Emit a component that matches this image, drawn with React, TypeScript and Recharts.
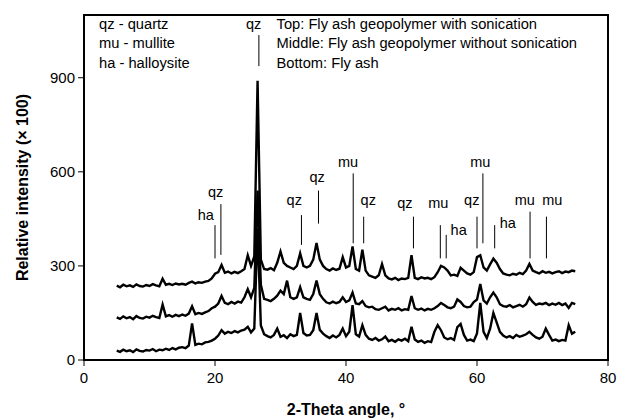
import { LineChart, Line, XAxis, YAxis, ReferenceLine, ReferenceDot, ReferenceArea } from "recharts";

const FONT = "'Liberation Sans', Arial, Helvetica, sans-serif";

// 2-theta sampling (degrees)
const theta = [
  5, 5.5, 6, 6.5, 7, 7.5, 8, 8.5, 9, 9.5,
  10, 10.5, 11, 11.5, 12, 12.5, 13, 13.5, 14, 14.5,
  15, 15.5, 16, 16.5, 17, 17.5, 18, 18.5, 19, 19.5,
  20, 20.5, 21, 21.5, 22, 22.5, 23, 23.5, 24, 24.5,
  25, 25.5, 26, 26.5, 27, 27.5, 28, 28.5, 29, 29.5,
  30, 30.5, 31, 31.5, 32, 32.5, 33, 33.5, 34, 34.5,
  35, 35.5, 36, 36.5, 37, 37.5, 38, 38.5, 39, 39.5,
  40, 40.5, 41, 41.5, 42, 42.5, 43, 43.5, 44, 44.5,
  45, 45.5, 46, 46.5, 47, 47.5, 48, 48.5, 49, 49.5,
  50, 50.5, 51, 51.5, 52, 52.5, 53, 53.5, 54, 54.5,
  55, 55.5, 56, 56.5, 57, 57.5, 58, 58.5, 59, 59.5,
  60, 60.5, 61, 61.5, 62, 62.5, 63, 63.5, 64, 64.5,
  65, 65.5, 66, 66.5, 67, 67.5, 68, 68.5, 69, 69.5,
  70, 70.5, 71, 71.5, 72, 72.5, 73, 73.5, 74, 74.5,
  75,
];

// Bottom: fly ash
const flyAsh = [
  30, 26, 33, 28, 31, 25, 34, 29, 27, 32,
  30, 35, 28, 33, 31, 36, 32, 38, 34, 39,
  41, 38, 46, 117, 48, 52, 50, 56, 58, 62,
  68, 78, 95, 84, 90, 86, 92, 88, 94, 97,
  106, 88, 100, 420, 110, 82, 76, 72, 80, 100,
  74, 79, 70, 82, 76, 80, 150, 86, 78, 80,
  95, 150, 96, 84, 76, 70, 78, 72, 80, 100,
  76, 90, 175, 82, 75, 111, 80, 68, 64, 70,
  62, 66, 75, 60, 64, 58, 66, 62, 68, 60,
  106, 65, 58, 62, 55, 60, 57, 90, 111, 95,
  72, 66, 70, 64, 105, 115, 80, 62, 65, 60,
  85, 182, 90, 70, 100, 150, 120, 90, 78, 72,
  76, 70, 80, 74, 78, 82, 90, 80, 72, 68,
  74, 100, 80, 62, 65, 60, 64, 62, 111, 84,
  90,
];

// Middle: geopolymer without sonication
const noSonication = [
  136, 131, 139, 133, 137, 130, 140, 134, 132, 138,
  135, 141, 137, 134, 177, 139, 143, 138, 144, 140,
  145, 141, 148, 171, 146, 150, 147, 152, 156, 165,
  170, 180, 204, 182, 178, 185, 180, 186, 183, 200,
  226, 200, 230, 540, 240, 195, 192, 188, 195, 205,
  221, 210, 253, 200, 195, 200, 232, 200, 195, 192,
  210, 253, 210, 195, 184, 180, 186, 181, 185, 200,
  185, 190, 215, 180, 178, 188, 172, 168, 170, 162,
  160, 165, 170, 158, 163, 160, 165, 158, 162, 160,
  204, 165, 160, 164, 158, 163, 160, 165, 172, 182,
  175, 168, 165, 170, 193, 185, 172, 168, 170, 185,
  193, 242, 190, 180, 200, 215, 200, 178, 172, 170,
  175, 168, 172, 176, 170, 178, 199, 185, 176, 180,
  178, 182, 175, 180, 176, 182, 175, 180, 166, 182,
  178,
];

// Top: geopolymer with sonication
const withSonication = [
  237, 232, 240, 235, 238, 233, 241, 236, 234, 239,
  236, 242, 238, 235, 259, 240, 243, 239, 244, 241,
  243, 240, 246, 250, 244, 248, 246, 250, 252, 260,
  275, 280, 303, 278, 282, 276, 281, 277, 283, 290,
  334, 300, 330, 890, 320, 290, 288, 293, 286, 310,
  346, 310, 300, 295, 290, 300, 340, 300, 295, 300,
  320, 373, 320, 300, 290, 285, 292, 287, 291, 328,
  295, 300, 362, 290, 285, 352, 285, 270, 266, 262,
  270, 306, 270, 260, 257, 262, 255, 260, 258, 262,
  334, 262, 258, 264, 260, 262, 258, 264, 280, 300,
  295, 285, 270, 272, 268, 294, 285, 276, 272, 280,
  328, 334, 295, 285, 305, 323, 310, 290, 276, 272,
  270, 275, 272, 278, 274, 285, 306, 285, 280, 276,
  283, 278, 281, 276, 280, 283, 277, 282, 280, 285,
  283,
];

const xTicks = [0, 20, 40, 60, 80];
const yTicks = [0, 300, 600, 900];

// peak annotations: phase, line angle, line top/bottom, label angle/level
const phaseName = ["ha", "qz", "qz", "qz", "qz", "mu", "qz", "qz", "mu", "ha", "qz", "mu", "ha", "mu", "mu"];
const phaseAngle = [20.0, 20.9, 26.7, 33.2, 35.8, 41.1, 42.7, 50.3, 54.4, 55.3, 60.0, 60.9, 62.7, 68.1, 70.6];
const phaseTop = [430, 497, 1036, 462, 540, 595, 457, 457, 430, 399, 457, 595, 430, 473, 457];
const phaseBottom = [324, 335, 937, 367, 435, 372, 372, 356, 324, 324, 356, 372, 356, 324, 324];
const phaseLabelAngle = [18.6, 20.1, 25.9, 32.1, 35.6, 40.3, 43.4, 49.0, 54.1, 57.2, 59.2, 60.5, 64.7, 67.3, 71.5];
const phaseLabelLevel = [462, 537, 1071, 510, 585, 632, 510, 500, 500, 415, 510, 632, 436, 510, 510];

const keyPhases = ["qz - quartz", "mu - mullite", "ha - halloysite"];
const keySamples = [
  "Top: Fly ash geopolymer with sonication",
  "Middle: Fly ash geopolymer without sonication",
  "Bottom: Fly ash",
];
const keyLevels = [1071, 1010, 949];

const rows = theta.map((t, i) => ({
  theta: t,
  bottom: flyAsh[i],
  middle: noSonication[i],
  top: withSonication[i],
}));

const txt = { fill: "#000", fontFamily: FONT };

export default function App() {
  return (
    <div style={{ position: "absolute", left: 8, top: 8 }}>
      <LineChart width={612} height={411} data={rows} margin={{ top: 7, right: 12, bottom: 4, left: 0 }}>
        <XAxis
          dataKey="theta"
          type="number"
          domain={[0, 80]}
          ticks={xTicks}
          interval={0}
          height={55}
          tickSize={6}
          tickMargin={6}
          tick={{ ...txt, fontSize: 15 }}
          tickLine={{ stroke: "#000" }}
          axisLine={{ stroke: "#000", strokeWidth: 1.5 }}
          label={{ value: "2-Theta angle, °", position: "insideBottom", offset: 0, ...txt, fontSize: 16, fontWeight: "bold" }}
        />
        <YAxis
          type="number"
          domain={[0, 1100]}
          ticks={yTicks}
          interval={0}
          width={76}
          tickSize={6}
          tickMargin={3}
          tick={{ ...txt, fontSize: 15 }}
          tickLine={{ stroke: "#000" }}
          axisLine={{ stroke: "#000", strokeWidth: 1.5 }}
          label={{
            value: "Relative intensity (× 100)",
            angle: -90,
            position: "insideLeft",
            offset: 14,
            textAnchor: "middle",
            ...txt,
            fontSize: 16,
            fontWeight: "bold",
          }}
        />
        <ReferenceArea x1={0} x2={80} y1={0} y2={1100} fill="none" stroke="#000" strokeWidth={2} />
        <Line dataKey="bottom" stroke="#000" strokeWidth={2.4} dot={false} isAnimationActive={false} />
        <Line dataKey="middle" stroke="#000" strokeWidth={2.4} dot={false} isAnimationActive={false} />
        <Line dataKey="top" stroke="#000" strokeWidth={2.4} dot={false} isAnimationActive={false} />
        {phaseName.map((p, i) => (
          <ReferenceLine
            key={`l${i}`}
            segment={[
              { x: phaseAngle[i], y: phaseTop[i] },
              { x: phaseAngle[i], y: phaseBottom[i] },
            ]}
            stroke="#000"
            strokeWidth={1}
          />
        ))}
        {phaseName.map((p, i) => (
          <ReferenceDot
            key={`t${i}`}
            x={phaseLabelAngle[i]}
            y={phaseLabelLevel[i]}
            r={0}
            fill="none"
            stroke="none"
            label={{ value: p, position: "center", ...txt, fontSize: 14.5 }}
          />
        ))}
        {keyPhases.map((k, i) => (
          <ReferenceDot
            key={`kp${i}`}
            x={2.3}
            y={keyLevels[i]}
            r={0}
            fill="none"
            stroke="none"
            label={{ value: k, position: "right", offset: 0, ...txt, fontSize: 14.7 }}
          />
        ))}
        {keySamples.map((k, i) => (
          <ReferenceDot
            key={`ks${i}`}
            x={29.4}
            y={keyLevels[i]}
            r={0}
            fill="none"
            stroke="none"
            label={{ value: k, position: "right", offset: 0, ...txt, fontSize: 14.7 }}
          />
        ))}
      </LineChart>
    </div>
  );
}
